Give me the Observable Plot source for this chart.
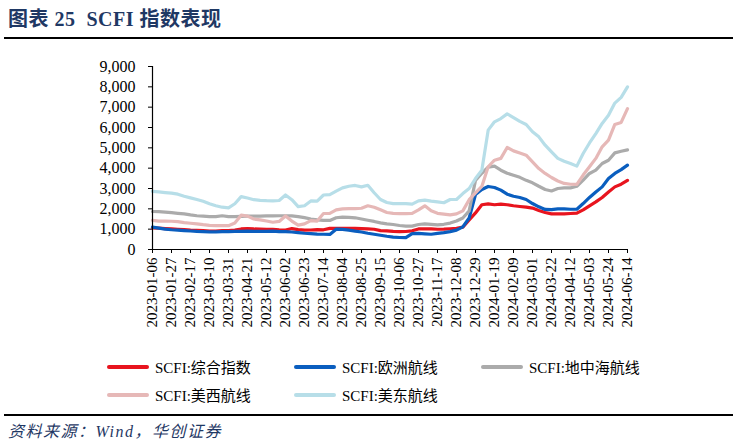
<!DOCTYPE html>
<html><head><meta charset="utf-8">
<script src="https://cdn.jsdelivr.net/npm/d3@7"></script>
<script src="https://cdn.jsdelivr.net/npm/@observablehq/plot@0.6"></script>
<style>
body{margin:0;background:#fff;width:737px;height:443px;position:relative;overflow:hidden;font-family:"Liberation Serif","Noto Sans CJK SC",serif;}
#title{position:absolute;left:8px;top:3px;font-size:20px;font-weight:bold;color:#1F3864;white-space:nowrap;letter-spacing:0.5px;}
.rule{position:absolute;left:4px;width:729px;height:2px;background:#000;}
#chart{position:absolute;left:0;top:0;}
.leg{position:absolute;font-size:15px;color:#000;white-space:nowrap;display:flex;align-items:center;}
.leg .sw{display:inline-block;width:42px;height:4px;margin-right:6px;border-radius:2px;}
#source{position:absolute;left:8px;top:418px;font-size:16px;font-style:italic;color:#1F3864;white-space:nowrap;letter-spacing:1.5px;}
</style></head>
<body>
<div id="title">图表 25&nbsp; SCFI 指数表现</div>
<div class="rule" style="top:37px"></div>
<div id="chart"></div>
<div id="legend"></div>
<div class="rule" style="top:414px"></div>
<div id="source">资料来源：Wind，华创证券</div>
<script>
const startDate = "2023-01-06";
const weeks = 76;
const tickLabels = ["2023-01-06","2023-01-27","2023-02-17","2023-03-10","2023-03-31","2023-04-21","2023-05-12","2023-06-02","2023-06-23","2023-07-14","2023-08-04","2023-08-25","2023-09-15","2023-10-06","2023-10-27","2023-11-17","2023-12-08","2023-12-29","2024-01-19","2024-02-09","2024-03-01","2024-03-22","2024-04-12","2024-05-03","2024-05-24","2024-06-14"];
const seriesNames = ["SCFI:综合指数","SCFI:欧洲航线","SCFI:地中海航线","SCFI:美西航线","SCFI:美东航线"];
const seriesColors = ["#E8141E","#0A5EBF","#ABABAB","#E6B8B7","#B7DEE8"];

const composite = [1061,1050,1030,1010,990,975,950,945,930,910,910,925,925,960,1010,1030,1010,1000,985,990,970,960,1030,975,955,960,980,970,1040,1035,1040,1045,1040,1030,1010,995,930,920,890,880,885,920,1010,1010,1015,995,1000,1020,1045,1100,1450,1800,2200,2245,2200,2230,2200,2150,2115,2080,2035,1920,1820,1750,1750,1750,1770,1785,1950,2150,2340,2560,2830,3080,3210,3400];
const europe = [1100,1050,1000,970,950,930,910,890,880,870,870,875,880,890,890,900,895,895,890,900,880,880,860,830,800,780,760,750,740,1000,990,950,900,860,800,750,700,650,610,590,580,780,790,770,750,790,830,880,950,1110,1550,2700,2950,3100,3050,2920,2720,2620,2560,2460,2260,2100,1970,1960,2000,2000,1980,1980,2260,2560,2830,3080,3490,3740,3930,4150];
const mediterranean = [1870,1860,1840,1810,1780,1750,1700,1660,1640,1620,1620,1660,1620,1620,1630,1640,1640,1640,1650,1650,1660,1660,1650,1620,1570,1500,1460,1430,1430,1560,1590,1580,1560,1500,1440,1380,1310,1260,1230,1180,1150,1150,1230,1260,1240,1210,1240,1300,1400,1550,1900,3400,3750,4050,4100,3900,3750,3650,3550,3400,3280,3110,2950,2880,3000,3030,3030,3110,3410,3740,3900,4230,4390,4750,4830,4900];
const usWest = [1430,1400,1400,1390,1370,1320,1290,1260,1220,1190,1170,1170,1170,1300,1690,1640,1500,1460,1400,1340,1380,1650,1400,1200,1260,1420,1400,1770,1780,1950,2000,2010,2010,2030,2150,2080,1950,1820,1780,1760,1760,1780,1950,2150,1900,1780,1740,1700,1750,1900,2450,2780,3100,4070,4390,4480,5020,4850,4750,4640,4310,3980,3740,3540,3370,3250,3210,3200,3660,4070,4480,5050,5380,6150,6250,6930];
const usEast = [2860,2830,2800,2770,2720,2620,2540,2460,2370,2250,2150,2080,2050,2250,2600,2530,2450,2420,2400,2390,2410,2680,2450,2110,2150,2390,2380,2680,2700,2870,3030,3110,3150,3080,3160,2790,2460,2310,2260,2260,2260,2230,2390,2430,2380,2340,2300,2460,2460,2750,3000,3490,3900,5870,6280,6440,6670,6490,6300,6150,5790,5540,5130,4800,4480,4340,4230,4100,4720,5240,5700,6200,6600,7200,7480,8000];

const seriesValues = [composite, europe, mediterranean, usWest, usEast];
const parse = d3.utcParse("%Y-%m-%d");
const t0 = parse(startDate);
const dates = d3.range(weeks).map(i => d3.utcDay.offset(t0, 7 * i));
const tickDates = tickLabels.map(parse);

const data = [];
seriesNames.forEach((name, s) => seriesValues[s].forEach((v, i) => data.push({date: dates[i], value: v, series: name})));

const chart = Plot.plot({
  width: 737, height: 345,
  marginLeft: 152, marginRight: 110, marginTop: 66, marginBottom: 96,
  style: {fontFamily: "'Liberation Serif','Noto Sans CJK SC',serif", fontSize: "15px", color: "#000", background: "transparent"},
  x: {type: "utc", domain: [dates[0], dates[weeks - 1]]},
  y: {domain: [0, 9000]},
  color: {domain: seriesNames, range: seriesColors},
  marks: [
    Plot.axisY({ticks: d3.range(0, 9001, 1000), tickFormat: d3.format(","), tickSize: 4, tickPadding: 13, label: null, fontSize: 16}),
    Plot.axisX({ticks: tickDates, tickFormat: d3.utcFormat("%Y-%m-%d"), tickRotate: -90, tickSize: 4, tickPadding: 4, label: null, fontSize: 15}),
    Plot.line(data, {x: "date", y: "value", z: "series", stroke: "series", strokeWidth: 3.2}),
    Plot.ruleY([0], {stroke: "#000", strokeWidth: 1.2}),
    Plot.ruleX([dates[0]], {stroke: "#000", strokeWidth: 1.2})
  ]
});
document.getElementById("chart").appendChild(chart);

const legendPos = [[107, 356], [294, 356], [481, 356], [107, 384], [294, 384]];
const legend = document.getElementById("legend");
seriesNames.forEach((name, s) => {
  const d = document.createElement("div");
  d.className = "leg";
  d.style.left = legendPos[s][0] + "px";
  d.style.top = legendPos[s][1] + "px";
  d.innerHTML = `<span class="sw" style="background:${seriesColors[s]}"></span><span>${name}</span>`;
  legend.appendChild(d);
});
</script>
</body></html>
